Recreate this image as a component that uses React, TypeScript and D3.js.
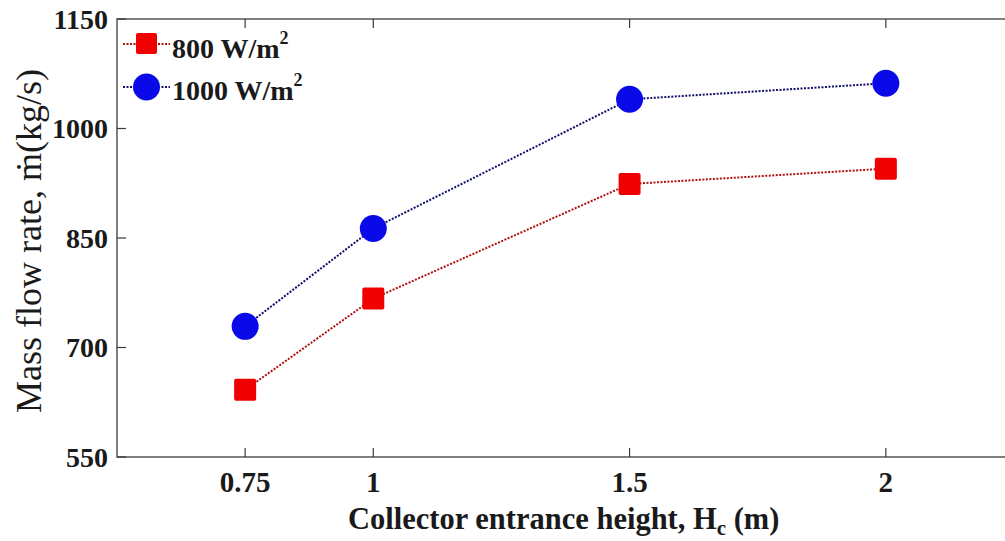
import React from 'react';
import * as d3 from 'd3';

// collector entrance heights (m)
const heights = [0.75, 1, 1.5, 2];
// mass flow rate (kg/s) at two irradiance levels
const flow800 = [642, 767, 924, 945];
const flow1000 = [729, 863, 1040, 1062];
const xTicks = [0.75, 1, 1.5, 2];
const yTicks = [550, 700, 850, 1000, 1150];

const W = 1005;
const H = 541;
const margin = { top: 19, right: -9, bottom: 84, left: 117 };
const FONT = '"Liberation Serif", "Times New Roman", serif';

const App = () => {
    const x = d3.scaleLinear().domain([0.5, 2.25]).range([margin.left, W - margin.right]);
    const y = d3.scaleLinear().domain([550, 1150]).range([H - margin.bottom, margin.top]);

    const line = d3
        .line<number>()
        .x((d, i) => x(heights[i]))
        .y((d) => y(d));

    const x0 = x.range()[0];
    const x1 = x.range()[1];
    const y0 = y.range()[0];
    const y1 = y.range()[1];
    const tick = 9;

    return (
        <div style={{ position: 'absolute', left: 0, top: 0 }}>
            <svg width={W} height={H} style={{ display: 'block', background: '#fff' }}>
                {/* frame */}
                <rect x={x0} y={y1} width={x1 - x0} height={y0 - y1} fill="none" stroke="#3a3a3a" strokeWidth={1.3} />

                {/* x ticks */}
                {xTicks.map((t) => (
                    <g key={'x' + t}>
                        <line x1={x(t)} x2={x(t)} y1={y0} y2={y0 - tick} stroke="#3a3a3a" strokeWidth={1.2} />
                        <line x1={x(t)} x2={x(t)} y1={y1} y2={y1 + tick} stroke="#3a3a3a" strokeWidth={1.2} />
                        <text x={x(t)} y={y0 + 35} textAnchor="middle" fontFamily={FONT} fontWeight="bold" fontSize={29} fill="#1a1a1a">
                            {t}
                        </text>
                    </g>
                ))}

                {/* y ticks */}
                {yTicks.map((t) => (
                    <g key={'y' + t}>
                        <line x1={x0} x2={x0 + tick} y1={y(t)} y2={y(t)} stroke="#3a3a3a" strokeWidth={1.2} />
                        <line x1={x1} x2={x1 - tick} y1={y(t)} y2={y(t)} stroke="#3a3a3a" strokeWidth={1.2} />
                        <text x={x0 - 9} y={y(t)} dy="0.35em" textAnchor="end" fontFamily={FONT} fontWeight="bold" fontSize={28} fill="#1a1a1a">
                            {t}
                        </text>
                    </g>
                ))}

                {/* axis labels */}
                <text x={348} y={529} fontFamily={FONT} fontWeight="bold" fontSize={30.5} fill="#1a1a1a">
                    Collector entrance height, H
                    <tspan fontSize={21} dy={6}>c</tspan>
                    <tspan dy={-6}> (m)</tspan>
                </text>
                <text
                    transform={`translate(${41},${241}) rotate(-90)`}
                    textAnchor="middle"
                    fontFamily={FONT}
                    fontSize={36}
                    fill="#1a1a1a"
                >
                    Mass flow rate, ṁ(kg/s)
                </text>

                {/* series */}
                <path d={line(flow800) || ''} fill="none" stroke="#b01010" strokeWidth={2} strokeDasharray="2 1.5" />
                <path d={line(flow1000) || ''} fill="none" stroke="#10106a" strokeWidth={2} strokeDasharray="2 1.5" />

                {flow800.map((v, i) => (
                    <rect key={'r' + i} x={x(heights[i]) - 11} y={y(v) - 11} width={22} height={22} rx={2} fill="#f00000" />
                ))}
                {flow1000.map((v, i) => (
                    <circle key={'c' + i} cx={x(heights[i])} cy={y(v)} r={13.5} fill="#0a0ae8" />
                ))}

                {/* legend */}
                <g>
                    <line x1={123} x2={170} y1={44} y2={44} stroke="#b01010" strokeWidth={2} strokeDasharray="2 1.5" />
                    <rect x={136} y={33} width={21} height={21} rx={2} fill="#f00000" />
                    <text x={172} y={58} fontFamily={FONT} fontWeight="bold" fontSize={28} fill="#1a1a1a">
                        800 W/m
                        <tspan fontSize={18} dy={-14}>2</tspan>
                    </text>
                    <line x1={123} x2={170} y1={87} y2={87} stroke="#10106a" strokeWidth={2} strokeDasharray="2 1.5" />
                    <circle cx={146.5} cy={87} r={13.5} fill="#0a0ae8" />
                    <text x={172} y={100} fontFamily={FONT} fontWeight="bold" fontSize={28} fill="#1a1a1a">
                        1000 W/m
                        <tspan fontSize={18} dy={-14}>2</tspan>
                    </text>
                </g>
            </svg>
        </div>
    );
};

export default App;
